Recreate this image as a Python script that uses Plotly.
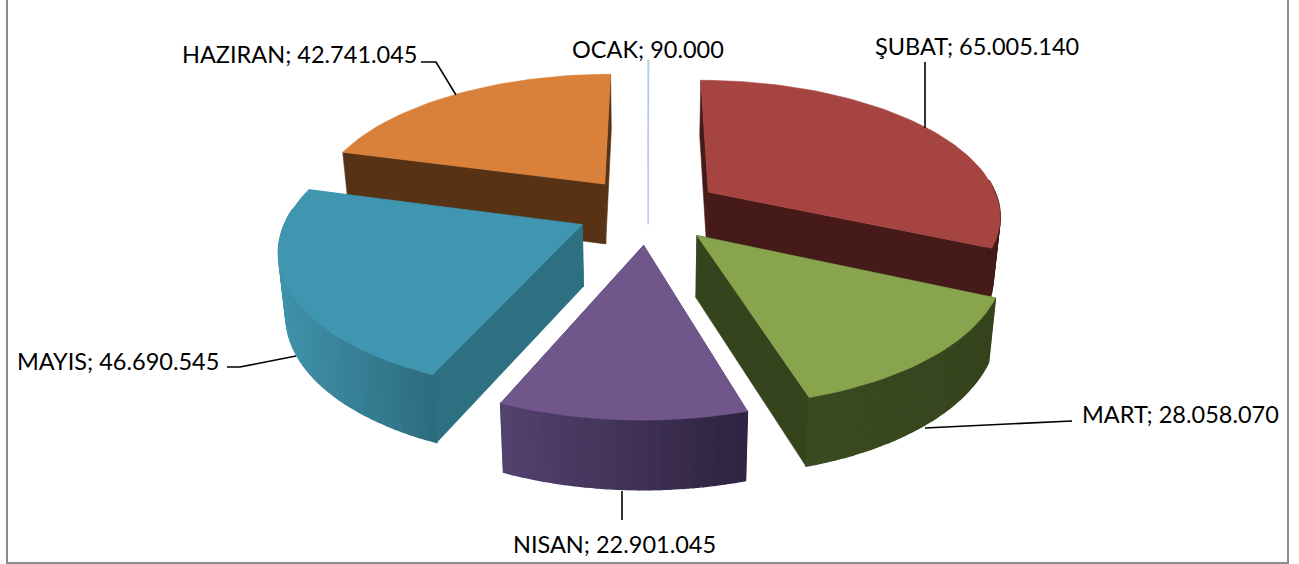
import math
import plotly.graph_objects as go

months = ["OCAK", "ŞUBAT", "MART", "NISAN", "MAYIS", "HAZIRAN"]
values = [90000, 65005140, 28058070, 22901045, 46690545, 42741045]

top_colors = ["#b4c7e0", "#a64441", "#88a44d", "#71568c", "#4096b0", "#d9813b"]
wall_colors = ["#b4c7e0", "#461a19", "#36441e", "#4a3a63", "#2d7082", "#583215"]
side_left = ["#b4c7e0", "#461a19", "#3a4a20", "#54426f", "#4092aa", "#6a3d1a"]
side_right = ["#b4c7e0", "#461a19", "#36441e", "#2e2340", "#2d6c7e", "#583215"]
explode = [0.35, 0.25, 0.245, 0.252, 0.245, 0.25]
draw_order = [5, 1, 0, 4, 2, 3]

label_x = [648, 977, 1180, 614, 118, 299]
label_y = [49, 46, 414, 544, 361, 54]
leaders = [
    None,
    ([925, 925], [62, 128]),
    ([1072, 925], [421, 428]),
    ([622, 622], [491, 520]),
    ([227, 240, 296], [367, 367, 356]),
    ([421, 436, 456], [62, 62, 95]),
]

CX, CY, A, B, P, D, BOTTOM = 648, 210, 293, 134.7, 0.158, 61, 0.98


def project(px, py, low=False):
    s = 1 / (1 + P * py)
    x = A * px * s
    y = CY - B * py * s
    if low:
        return CX + x * BOTTOM, y + D * s ** 0.6
    return CX + x, y


def mix(a, b, t):
    ca = [int(a[i:i + 2], 16) for i in (1, 3, 5)]
    cb = [int(b[i:i + 2], 16) for i in (1, 3, 5)]
    return "#%02x%02x%02x" % tuple(round(u + (v - u) * t) for u, v in zip(ca, cb))


fig = go.Figure()


def poly(pts, color, width=0.6):
    fig.add_trace(go.Scatter(
        x=[p[0] for p in pts] + [pts[0][0]], y=[p[1] for p in pts] + [pts[0][1]],
        mode="lines", fill="toself", fillcolor=color,
        line=dict(color=color, width=width), hoverinfo="skip", showlegend=False))


total = sum(values)
starts, acc = [], 0
for v in values:
    starts.append(acc / total * 2 * math.pi)
    acc += v

for i in draw_order:
    a0 = starts[i]
    a1 = a0 + values[i] / total * 2 * math.pi
    mid = (a0 + a1) / 2
    ox, oy = explode[i] * math.sin(mid), explode[i] * math.cos(mid)
    n = max(2, int((a1 - a0) / 0.03))
    angs = [a0 + (a1 - a0) * k / n for k in range(n + 1)]
    rim = [(ox + math.sin(a), oy + math.cos(a)) for a in angs]
    for edge in (rim[0], rim[-1]):
        poly([project(ox, oy), project(*edge), project(*edge, True), project(ox, oy, True)], wall_colors[i])
    xs = [project(*r)[0] for r in rim]
    lo, hi = min(xs), max(xs)
    for k in range(n):
        if math.cos((angs[k] + angs[k + 1]) / 2) > 0.1:
            continue
        t = ((xs[k] + xs[k + 1]) / 2 - lo) / max(hi - lo, 1)
        poly([project(*rim[k]), project(*rim[k + 1]), project(*rim[k + 1], True), project(*rim[k], True)],
             mix(side_left[i], side_right[i], t), 1.4)
    poly([project(ox, oy)] + [project(*r) for r in rim], top_colors[i])

for lead in leaders:
    if lead:
        fig.add_trace(go.Scatter(x=lead[0], y=lead[1], mode="lines", line=dict(color="#000000", width=1.6),
                                 hoverinfo="skip", showlegend=False))

for m, v, lx, ly in zip(months, values, label_x, label_y):
    fig.add_annotation(x=lx, y=ly, text=f"{m}; {v:,}".replace(",", "."), showarrow=False,
                       font=dict(family="Lato", size=23.5, color="#000000"), xanchor="center", yanchor="middle")

fig.update_layout(
    width=1299, height=564, margin=dict(l=0, r=0, t=0, b=0), paper_bgcolor="#ffffff", plot_bgcolor="#ffffff",
    xaxis=dict(range=[0, 1299], visible=False, fixedrange=True),
    yaxis=dict(range=[564, 0], visible=False, fixedrange=True),
    shapes=[dict(type="rect", x0=7, x1=1288, y0=-5, y1=563, line=dict(color="#8c8c8c", width=2), layer="below")],
)
fig.write_html("out.html", config={"displayModeBar": False},
               post_script="document.body.style.margin='0';document.body.style.overflow='hidden';")
